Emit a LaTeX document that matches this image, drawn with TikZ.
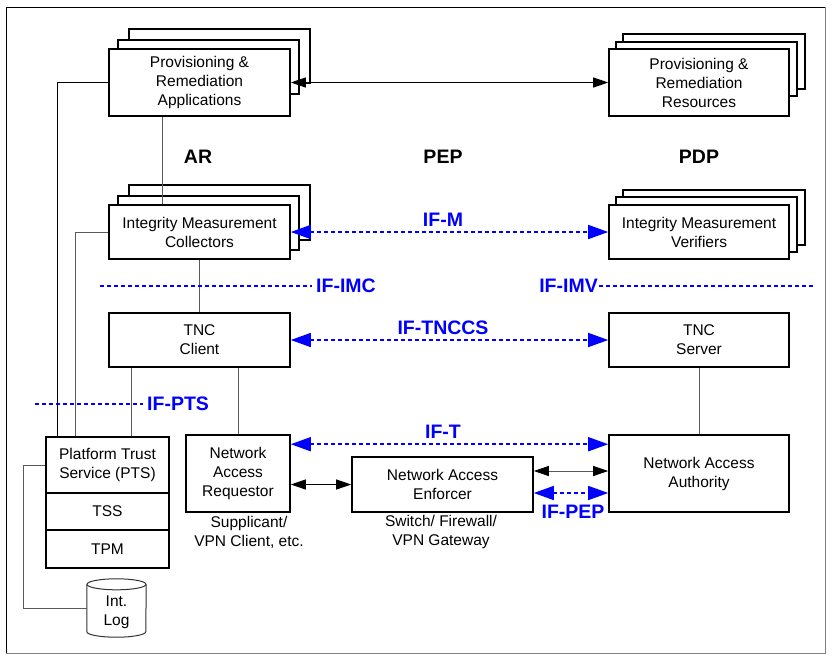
\documentclass[tikz,border=0pt]{standalone}
\usepackage{fontspec}
\setmainfont{Liberation Sans}
\usetikzlibrary{arrows.meta}
\definecolor{ifblue}{RGB}{0,0,255}
\definecolor{conngray}{RGB}{90,90,90}
\begin{document}
\begin{tikzpicture}[x=1pt,y=-1pt,
 box/.style={draw=black, line width=1.6pt, fill=white, align=center, inner sep=0pt, font=\fontsize{15.5}{19}\selectfont},
 back/.style={draw=black, line width=1.6pt, fill=white},
 conn/.style={draw=conngray, line width=0.9pt},
 blk/.style={draw=black, line width=0.9pt, {Triangle[length=15pt,width=10pt]}-{Triangle[length=15pt,width=10pt]}},
 blkgray/.style={draw=conngray, line width=0.9pt, {Triangle[length=15pt,width=10pt,fill=black,color=black]}-{Triangle[length=15pt,width=10pt,fill=black,color=black]}},
 ifarrow/.style={draw=ifblue, line width=1.6pt, dash pattern=on 4pt off 3pt, {Triangle[length=20pt,width=14pt]}-{Triangle[length=20pt,width=14pt]}},
 ifline/.style={draw=ifblue, line width=1.6pt, dash pattern=on 4pt off 3pt},
 iflabel/.style={text=ifblue, font=\fontsize{19.5}{22}\selectfont\bfseries, inner sep=0pt},
 role/.style={font=\fontsize{19.5}{22}\selectfont\bfseries, inner sep=0pt},
 note/.style={align=center, font=\fontsize{15.5}{19}\selectfont, inner sep=0pt}
]
\useasboundingbox (0,0) rectangle (834,664);
\fill[white] (0,0) rectangle (834,664);
% outer frame
\draw[black, line width=1pt] (6,653) -- (6,7) -- (825,7);
\draw[gray, line width=1pt] (825,7) -- (825,653) -- (6,653);

% stacked back boxes
\draw[back] (129,29) rectangle (310,83);
\draw[back] (118,40) rectangle (299,94);
\draw[back] (623,34) rectangle (805,89);
\draw[back] (616,42) rectangle (797,96);
\draw[back] (129,185) rectangle (310,240);
\draw[back] (118,196) rectangle (299,250);
\draw[back] (623,190) rectangle (805,245);
\draw[back] (616,197) rectangle (797,252);

% main boxes
\node[box, minimum width=181pt, minimum height=67pt] (pra) at (199.5,82.5) {Provisioning \&\\Remediation\\Applications};
\node[box, minimum width=180pt, minimum height=67pt] (prr) at (699,82.5) {Provisioning \&\\Remediation\\Resources};
\node[box, minimum width=181pt, minimum height=54pt] (imc) at (199.5,232) {Integrity Measurement\\Collectors};
\node[box, minimum width=180pt, minimum height=54pt] (imv) at (699,232) {Integrity Measurement\\Verifiers};
\node[box, minimum width=181pt, minimum height=54pt] (tncc) at (199.5,340) {TNC\\Client};
\node[box, minimum width=180pt, minimum height=54pt] (tncs) at (699,340) {TNC\\Server};
\node[box, minimum width=104pt, minimum height=77pt] (nar) at (238,473.5) {Network\\Access\\Requestor};
\node[box, minimum width=181pt, minimum height=55pt] (nae) at (442.5,484.5) {Network Access\\Enforcer};
\node[box, minimum width=180pt, minimum height=77pt] (naa) at (699,473.5) {Network Access\\Authority};
\node[box, minimum width=123pt, minimum height=56pt] (pts1) at (107.5,465) {Platform Trust\\Service (PTS)};
\node[box, minimum width=123pt, minimum height=37pt] (pts2) at (107.5,511.5) {TSS};
\node[box, minimum width=123pt, minimum height=38pt] (pts3) at (107.5,549) {TPM};

% Int. Log cylinder
\node[minimum width=59pt, minimum height=58pt, inner sep=0pt] (log) at (116.5,608) {};
\draw[draw=black!80, line width=1pt, fill=white] ([yshift=-5.5pt]log.north west) -- ([yshift=5.5pt]log.south west)
  arc[start angle=180, end angle=360, x radius=29.5pt, y radius=5.5pt] -- ([yshift=-5.5pt]log.north east);
\draw[draw=black!80, line width=1pt, fill=white] ([yshift=-5.5pt]log.north) ellipse[x radius=29.5pt, y radius=5.5pt];
\node[note] (logtext) at ([yshift=-4pt]log.center) {Int.\\Log};

% role labels
\node[role] (ar) at (198,157) {AR};
\node[role] (pep) at (443,157) {PEP};
\node[role] (pdp) at (699,157) {PDP};

% notes
\node[note] (supp) at (249,532) {Supplicant/\\VPN Client, etc.};
\node[note] (swit) at (441,532) {Switch/ Firewall/\\VPN Gateway};

% gray connectors
\draw[conn] ([xshift=54pt]pra.south west) -- ([xshift=54pt]pra.south west |- imc.north);
\draw[conn] (imc.south) -- (tncc.north);
\draw[conn] ([xshift=23pt]tncc.south west) -- ([xshift=23pt]tncc.south west |- pts1.north);
\draw[conn] (nar.north |- tncc.south) -- (nar.north);
\draw[conn] (tncs.south) -- (naa.north);
\draw[draw=black, line width=0.9pt] (pra.west) -| ([xshift=12pt]pts1.north west);
\draw[conn] (imc.west) -| ([xshift=30pt]pts1.north west);
\draw[conn] (pts1.west) -- ++(-22,0) |- (log.west);

% black arrows
\draw[blk] (pra.east) -- (prr.west);
\draw[blk] (nar.east |- nae.west) -- (nae.west);
\draw[blkgray] ([yshift=13.5pt]nae.east) -- ([yshift=13.5pt]nae.east -| naa.west);

% IF arrows and lines
\draw[ifarrow] (imc.east) -- (imv.west);
\node[iflabel] (ifm) at (443,220) {IF-M};
\draw[ifarrow] (tncc.east) -- (tncs.west);
\node[iflabel] (iftnccs) at (443,327.5) {IF-TNCCS};
\draw[ifarrow] ([yshift=-10pt]nar.north east) -- ([yshift=-10pt]nar.north east -| naa.west);
\node[iflabel] (ift) at (443,432) {IF-T};
\draw[ifarrow] ([yshift=-8.5pt]nae.east) -- ([yshift=-8.5pt]nae.east -| naa.west);
\node[iflabel] (ifpep) at (573,512) {IF-PEP};

\node[iflabel, anchor=west] (ifimc) at (316,286) {IF-IMC};
\coordinate (imcstart) at (100,286);
\draw[ifline] (imcstart) -- ([xshift=-4pt]ifimc.west);
\node[iflabel, anchor=east] (ifimv) at (598,286) {IF-IMV};
\coordinate (imvend) at (813,286);
\draw[ifline] ([xshift=1pt]ifimv.east) -- (imvend);
\node[iflabel, anchor=west] (ifpts) at (147,404) {IF-PTS};
\coordinate (ptsstart) at (35,404);
\draw[ifline] (ptsstart) -- ([xshift=-4pt]ifpts.west);
\end{tikzpicture}
\end{document}
